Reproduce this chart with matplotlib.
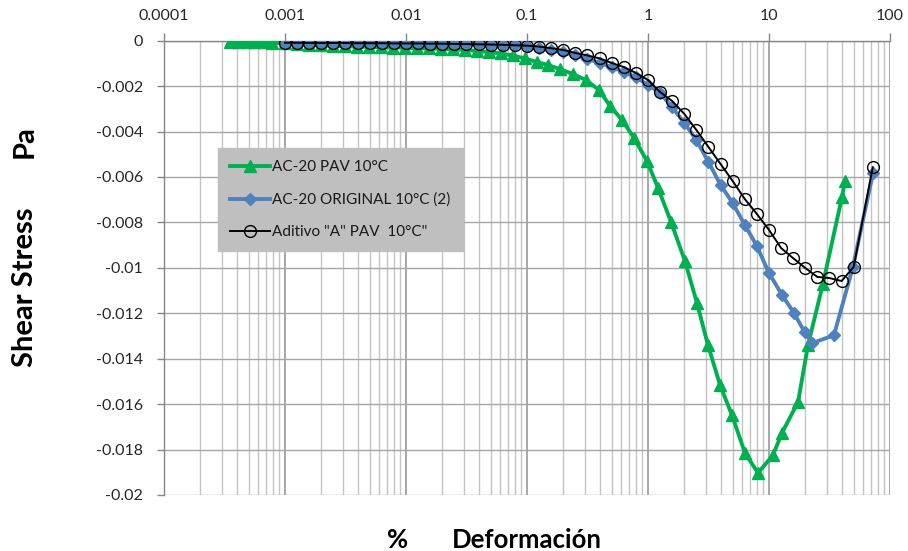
import matplotlib
matplotlib.use("Agg")
import matplotlib.pyplot as plt
from matplotlib.ticker import FixedLocator, LogLocator, NullFormatter

plt.rcParams['font.family'] = ['Lato', 'DejaVu Sans']

# ---------------- data ----------------
series_names = ['AC-20 PAV 10°C', 'AC-20 ORIGINAL 10°C (2)', 'Aditivo "A" PAV  10°C"']

green_x = [0.000351, 0.000409, 0.000485, 0.000565, 0.000658, 0.000781,
           0.001, 0.00126, 0.00158, 0.00199, 0.0025, 0.00313, 0.00393, 0.00494,
           0.0062, 0.00779, 0.00978, 0.0123, 0.0154, 0.0194, 0.0243, 0.0306,
           0.0384, 0.0482, 0.0605, 0.076, 0.0955, 0.121, 0.149, 0.187, 0.24,
           0.307, 0.394, 0.485, 0.61, 0.766, 0.981, 1.21, 1.55, 2.02, 2.54,
           3.13, 3.94, 4.94, 6.33, 8.11, 10.8, 12.8, 17.4, 21.0, 27.9, 40.1, 42.5]
green_y = [-0.00004, -0.00004, -0.00005, -0.00006, -0.00007, -0.00009,
           -0.00012, -0.00016, -0.00019, -0.00021, -0.00023, -0.00025, -0.00026,
           -0.00027, -0.00029, -0.0003, -0.00031, -0.00033, -0.00034, -0.00036,
           -0.00038, -0.00041, -0.00045, -0.0005, -0.00056, -0.00065, -0.00078,
           -0.00094, -0.00107, -0.00125, -0.00147, -0.00173, -0.00217, -0.00287,
           -0.00349, -0.00428, -0.0053, -0.00648, -0.00798, -0.0097, -0.01155,
           -0.0134, -0.01516, -0.01648, -0.01815, -0.01903, -0.01824, -0.01727,
           -0.0159, -0.0134, -0.01071, -0.00688, -0.00618]

black_x = [0.001, 0.00126, 0.00158, 0.002, 0.00251, 0.00316, 0.00398, 0.00501,
           0.00631, 0.00794, 0.01, 0.0126, 0.0158, 0.02, 0.0251, 0.0316, 0.0398,
           0.0501, 0.0631, 0.0794, 0.1, 0.126, 0.158, 0.2, 0.251, 0.316, 0.398,
           0.501, 0.631, 0.794, 1.0, 1.26, 1.58, 2.0, 2.51, 3.16, 3.98, 5.01,
           6.31, 7.94, 10.0, 12.6, 15.8, 20.0, 25.1, 31.6, 39.8, 50.1, 72.0]
black_y = [-0.00009, -0.00009, -0.0001, -0.0001, -0.0001, -0.0001, -0.00011,
           -0.00011, -0.00011, -0.00012, -0.00012, -0.00012, -0.00013, -0.00013,
           -0.00014, -0.00015, -0.00016, -0.00017, -0.00018, -0.0002, -0.00022,
           -0.00026, -0.00033, -0.00041, -0.00054, -0.00065, -0.00078, -0.00098,
           -0.00116, -0.00142, -0.00173, -0.00226, -0.00265, -0.00323, -0.00393,
           -0.00468, -0.00543, -0.00618, -0.00697, -0.00763, -0.00833, -0.00913,
           -0.00957, -0.01001, -0.0104, -0.01045, -0.01058, -0.00996, -0.00557]

blue_x = [0.001, 0.00126, 0.00158, 0.002, 0.00251, 0.00316, 0.00398, 0.00501,
          0.00631, 0.00794, 0.01, 0.0126, 0.0158, 0.02, 0.0251, 0.0316, 0.0398,
          0.0501, 0.0631, 0.0794, 0.1, 0.126, 0.158, 0.2, 0.251, 0.316, 0.398,
          0.501, 0.631, 0.794, 1.0, 1.26, 1.58, 2.0, 2.51, 3.16, 3.98, 5.01,
          6.31, 7.94, 10.0, 12.8, 16.1, 19.7, 22.8, 34.4, 49.4, 72.4]
blue_y = [-0.00009, -0.00009, -0.0001, -0.0001, -0.0001, -0.0001, -0.00011,
          -0.00011, -0.00011, -0.00012, -0.00012, -0.00012, -0.00013, -0.00013,
          -0.00014, -0.00015, -0.00016, -0.00017, -0.00018, -0.0002, -0.00023,
          -0.0003, -0.00039, -0.0005, -0.00065, -0.0008, -0.00098, -0.00116,
          -0.00138, -0.0016, -0.00195, -0.0023, -0.00292, -0.00362, -0.00437,
          -0.00534, -0.00635, -0.00715, -0.00811, -0.00904, -0.01023, -0.01119,
          -0.01199, -0.01283, -0.01331, -0.01297, -0.00996, -0.00582]

y_ticks = [0, -0.002, -0.004, -0.006, -0.008, -0.01, -0.012, -0.014, -0.016, -0.018, -0.02]
y_tick_labels = ['0', '-0.002', '-0.004', '-0.006', '-0.008', '-0.01', '-0.012',
                 '-0.014', '-0.016', '-0.018', '-0.02']
x_ticks = [0.0001, 0.001, 0.01, 0.1, 1, 10, 100]
x_tick_labels = ['0.0001', '0.001', '0.01', '0.1', '1', '10', '100']

# ---------------- figure ----------------
W, H = 908, 551
fig = plt.figure(figsize=(W / 100, H / 100), dpi=100)
L, R, T, B = 164, 890, 40.7, 495
ax = fig.add_axes([L / W, 1 - B / H, (R - L) / W, (B - T) / H])

ax.set_xscale('log')
ax.set_xlim(1e-4, 100)
ax.set_ylim(-0.02, 0)

ax.plot(green_x, green_y, color='#00B050', lw=2.8, marker='^', ms=8,
        mec='#00B050', mfc='#00B050', label=series_names[0], zorder=3)
ax.plot(blue_x, blue_y, color='#4F81BD', lw=2.8, marker='D', ms=6,
        mec='#4F81BD', mfc='#4F81BD', label=series_names[1], zorder=4)
ax.plot(black_x, black_y, color='black', lw=1.4, marker='o', ms=8.5,
        mec='black', mfc='none', mew=1.0, label=series_names[2], zorder=5)

# ticks
ax.xaxis.tick_top()
ax.xaxis.set_major_locator(FixedLocator(x_ticks))
ax.set_xticklabels(x_tick_labels)
ax.xaxis.set_minor_locator(LogLocator(base=10, subs=range(2, 10), numticks=100))
ax.xaxis.set_minor_formatter(NullFormatter())
ax.tick_params(axis='x', which='major', direction='out', length=6, width=1,
               color='#868686', labelsize=11.5, labelcolor='#262626', pad=7)
ax.tick_params(axis='x', which='minor', length=0)
ax.set_yticks(y_ticks)
ax.set_yticklabels(y_tick_labels)
ax.tick_params(axis='y', which='major', direction='out', length=5, width=1,
               color='#868686', labelsize=11.5, labelcolor='#262626', pad=10)

# grid
ax.grid(True, which='major', axis='x', color='#a0a0a0', lw=1.3, zorder=0)
ax.grid(True, which='minor', axis='x', color='#c4c4c4', lw=1.0, zorder=0)
ax.grid(True, which='major', axis='y', color='#a6a6a6', lw=1.0, zorder=0)
ax.set_axisbelow(True)

for s in ['right', 'bottom']:
    ax.spines[s].set_visible(False)
for s in ['left', 'top']:
    ax.spines[s].set_color('#868686')
    ax.spines[s].set_linewidth(1.0)

# legend
leg = ax.legend(loc='upper left', bbox_to_anchor=((218 - L) / (R - L), 1 - (148 - T) / (B - T)),
                borderaxespad=0, fontsize=11, handlelength=2.6, handletextpad=0.15,
                labelspacing=1.2, borderpad=0.8, frameon=True, fancybox=False,
                numpoints=1)
frame = leg.get_frame()
frame.set_facecolor('#bfbfbf')
frame.set_edgecolor('#bfbfbf')
frame.set_alpha(1)
for t in leg.get_texts():
    t.set_color('#1a1a1a')

# axis titles
fig.text(25 / W, 1 - 287 / H, 'Shear Stress', rotation=90, ha='center', va='center',
         fontsize=21, fontweight='bold', color='black')
fig.text(25 / W, 1 - 142 / H, 'Pa', rotation=90, ha='center', va='center',
         fontsize=21, fontweight='bold', color='black')
fig.text(398 / W, 1 - 540 / H, '%', ha='center', va='center',
         fontsize=18.5, fontweight='bold', color='black')
fig.text(527 / W, 1 - 540 / H, 'Deformación', ha='center', va='center',
         fontsize=18.5, fontweight='bold', color='black')

fig.savefig('out.png', dpi=100)
